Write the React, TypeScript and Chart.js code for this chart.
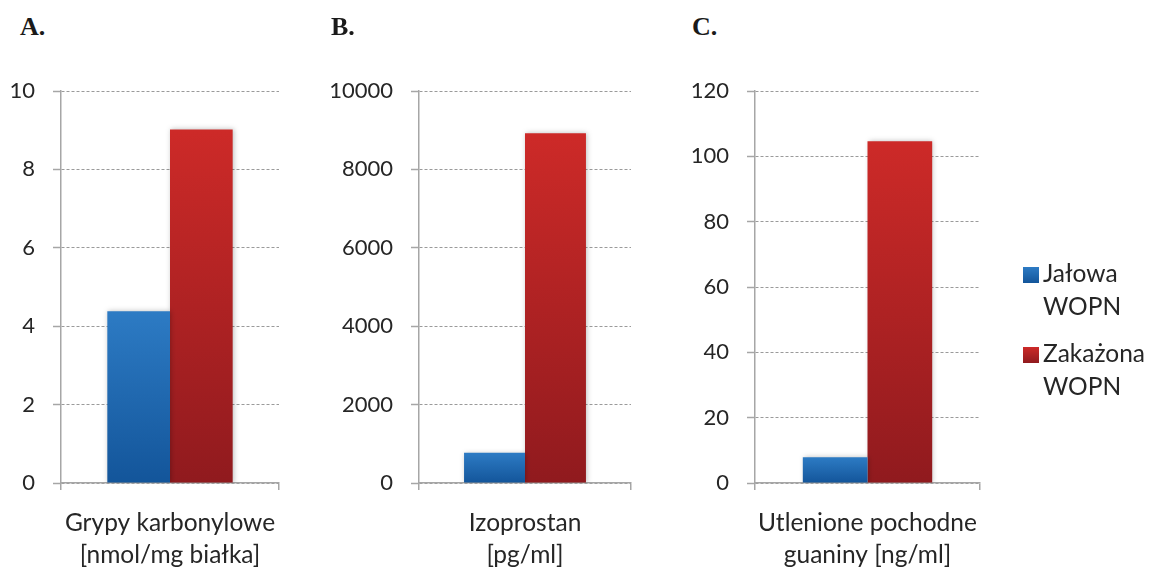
import React, { useEffect, useRef } from 'react';
import { Chart, registerables } from 'chart.js';
Chart.register(...registerables);

// ---- data ----
const seriesNames = ['Jałowa\nWOPN', 'Zakażona\nWOPN'];
const panelTitles = ['A.', 'B.', 'C.'];
const panelCategories: string[][] = [
  ['Grypy karbonylowe', '[nmol/mg białka]'],
  ['Izoprostan', '[pg/ml]'],
  ['Utlenione pochodne', 'guaniny [ng/ml]'],
];
const sterileValues = [4.38, 770, 7.9];
const infectedValues = [9.02, 8920, 104.6];
const axisMax = [10, 10000, 120];
const axisStep = [2, 2000, 20];

// ---- styles / layout ----
const AXIS = '#a6a6a6';
const GRID = '#9a9a9a';
const TEXT = '#262626';
const FONT = 'Lato';
const BLUE = ['#2d7bc4', '#13559a'];
const RED = ['#cd2a28', '#901a1e'];
const panelAxisX = [61, 419, 755];
const panelRight = [279, 631, 980];
const panelTitleX = [20, 331, 692];
const Y_AXIS_W = 100;
const RIGHT_PAD = 60;
const PLOT_TOP = 91;
const PLOT_BOTTOM = 483;
const H = 575;

const barFill = (colors: string[]) => (c: any) => {
  const chart = c.chart;
  const y = chart.scales && chart.scales.y;
  if (!y || c.raw == null) return colors[0];
  const t = y.getPixelForValue(c.raw);
  const b = y.getPixelForValue(0);
  if (!isFinite(t) || !isFinite(b) || t === b) return colors[0];
  const g = chart.ctx.createLinearGradient(0, t, 0, b);
  g.addColorStop(0, colors[0]);
  g.addColorStop(1, colors[1]);
  return g;
};

const shadowPlugin = {
  id: 'barShadow',
  beforeDatasetsDraw(chart: any) {
    const ctx = chart.ctx;
    ctx.save();
    ctx.shadowColor = 'rgba(0,0,0,0.25)';
    ctx.shadowBlur = 5;
    ctx.shadowOffsetX = 1;
    ctx.shadowOffsetY = 0;
  },
  afterDatasetsDraw(chart: any) {
    chart.ctx.restore();
  },
};

function Panel({ i }: { i: number }) {
  const ref = useRef<HTMLCanvasElement>(null);
  const left = panelAxisX[i] - Y_AXIS_W;
  const width = panelRight[i] + RIGHT_PAD - left;
  useEffect(() => {
    if (!ref.current) return;
    const chart = new Chart(ref.current, {
      type: 'bar',
      data: {
        labels: [panelCategories[i]],
        datasets: [
          { label: seriesNames[0], data: [sterileValues[i]], backgroundColor: barFill(BLUE), borderWidth: 0 },
          { label: seriesNames[1], data: [infectedValues[i]], backgroundColor: barFill(RED), borderWidth: 0 },
        ],
      },
      options: {
        animation: false,
        responsive: false,
        maintainAspectRatio: false,
        devicePixelRatio: 1,
        layout: { padding: { top: PLOT_TOP, right: RIGHT_PAD, left: 0, bottom: 0 } },
        datasets: { bar: { barPercentage: 1, categoryPercentage: 0.575 } },
        plugins: { legend: { display: false }, tooltip: { enabled: false } },
        scales: {
          x: {
            offset: true,
            grid: { offset: true, drawOnChartArea: false, tickLength: 7, color: AXIS, lineWidth: 1.5 },
            border: { color: AXIS, width: 1.5 },
            ticks: { padding: 17, color: TEXT, maxRotation: 0, font: { family: FONT, size: 24.5, lineHeight: 1.3 } },
            afterFit: (s: any) => { s.height = H - PLOT_BOTTOM; },
          },
          y: {
            min: 0,
            max: axisMax[i],
            ticks: {
              stepSize: axisStep[i],
              padding: 18,
              color: TEXT,
              font: { family: FONT, size: 22 },
              callback: (v: any) => String(v),
            },
            grid: { color: GRID, lineWidth: 1, tickLength: 8, tickColor: AXIS, tickWidth: 1.5, tickBorderDash: [] },
            border: { color: AXIS, width: 1.5, dash: [3, 2] },
            afterFit: (s: any) => { s.width = Y_AXIS_W; },
          },
        },
      } as any,
      plugins: [shadowPlugin],
    });
    return () => chart.destroy();
  }, [i]);
  return (
    <>
      <div style={{ position: 'absolute', left: panelTitleX[i], top: 14, font: 'bold 26px "Liberation Serif"', lineHeight: '26px', color: '#1a1a1a' }}>
        {panelTitles[i]}
      </div>
      <canvas ref={ref} width={width} height={H} style={{ position: 'absolute', left, top: 0, width, height: H }} />
    </>
  );
}

function LegendItem({ name, colors, top }: { name: string; colors: string[]; top: number }) {
  const lines = name.split('\n');
  return (
    <div style={{ position: 'absolute', left: 1023, top }}>
      <div style={{ position: 'absolute', left: 0, top: 0, width: 16, height: 16, background: `linear-gradient(${colors[0]}, ${colors[1]})` }} />
      <div style={{ position: 'absolute', left: 20, top: -11, font: `24.5px ${FONT}`, lineHeight: '33px', color: TEXT, whiteSpace: 'nowrap' }}>
        {lines.map((l, k) => <div key={k}>{l}</div>)}
      </div>
    </div>
  );
}

export default function App() {
  return (
    <div style={{ position: 'absolute', left: 0, top: 0, width: 1157, height: H, background: '#fff', overflow: 'hidden' }}>
      {panelTitles.map((_, i) => <Panel key={i} i={i} />)}
      <LegendItem name={seriesNames[0]} colors={BLUE} top={267} />
      <LegendItem name={seriesNames[1]} colors={RED} top={347} />
    </div>
  );
}
